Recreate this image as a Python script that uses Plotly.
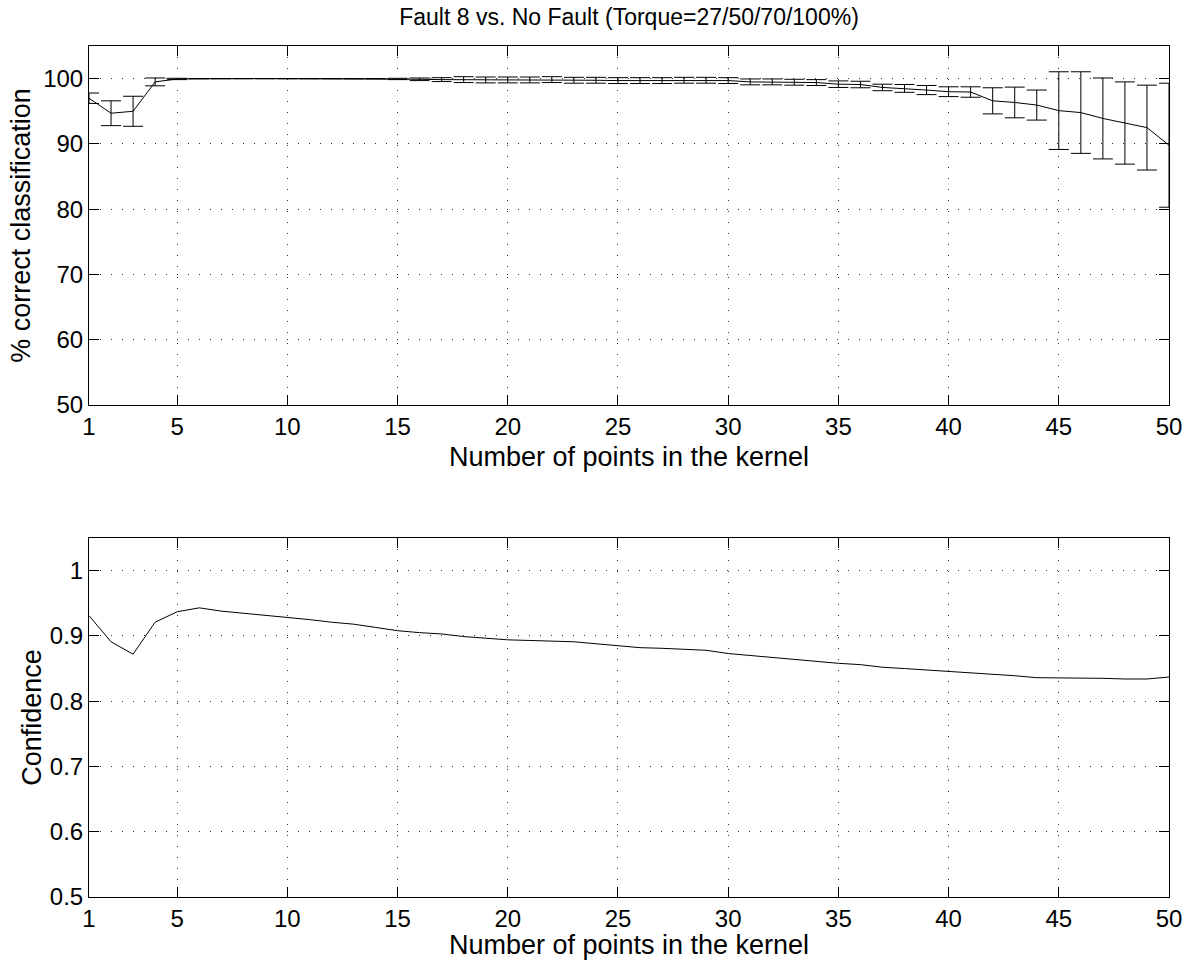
import plotly.graph_objects as go

kernel_points = list(range(1, 51))

pct_correct = [97.0, 94.7, 95.0, 99.5, 99.95, 100.0, 100.0, 100.0, 100.0, 100.0,
               100.0, 100.0, 100.0, 100.0, 99.95, 99.9, 99.85, 99.85, 99.8, 99.8,
               99.8, 99.85, 99.75, 99.75, 99.7, 99.7, 99.7, 99.75, 99.75, 99.7,
               99.5, 99.5, 99.45, 99.4, 99.15, 99.1, 98.65, 98.5, 98.25, 98.0,
               97.95, 96.6, 96.35, 95.95, 95.1, 94.8, 93.9, 93.2, 92.5, 89.8]

pct_err = [0.8, 1.9, 2.3, 0.6, 0.1, 0.0, 0.0, 0.0, 0.0, 0.0,
           0.0, 0.0, 0.0, 0.0, 0.1, 0.2, 0.3, 0.45, 0.45, 0.45,
           0.45, 0.45, 0.45, 0.45, 0.45, 0.45, 0.45, 0.45, 0.45, 0.45,
           0.45, 0.45, 0.45, 0.45, 0.5, 0.5, 0.5, 0.6, 0.7, 0.75,
           0.8, 2.0, 2.35, 2.3, 5.95, 6.25, 6.2, 6.3, 6.5, 9.5]

confidence = [0.931, 0.891, 0.872, 0.921, 0.937, 0.943, 0.938, 0.935, 0.932, 0.929,
              0.925, 0.921, 0.918, 0.913, 0.908, 0.905, 0.903, 0.899, 0.896, 0.894,
              0.893, 0.892, 0.891, 0.888, 0.885, 0.882, 0.881, 0.880, 0.878, 0.873,
              0.870, 0.866, 0.863, 0.860, 0.858, 0.856, 0.852, 0.850, 0.848, 0.846,
              0.844, 0.841, 0.839, 0.836, 0.836, 0.835, 0.835, 0.834, 0.834, 0.837]

x_ticks = [1, 5, 10, 15, 20, 25, 30, 35, 40, 45, 50]
top_y_ticks = [50, 60, 70, 80, 90, 100]
bot_y_ticks = [0.5, 0.6, 0.7, 0.8, 0.9, 1.0]
bot_y_labels = ["0.5", "0.6", "0.7", "0.8", "0.9", "1"]

title_text = "Fault 8 vs. No Fault (Torque=27/50/70/100%)"
xlabel = "Number of points in the kernel"

W, H = 1190, 960
FONT = "Liberation Sans, Arial, Helvetica, sans-serif"
ML, MR, MT, MB = 89, 21, 46, 63
PH = H - MT - MB

TICK_SIZE = 24
LABEL_SIZE = 27
TITLE_SIZE = 23

fig = go.Figure()
fig.add_trace(go.Scatter(
    x=kernel_points, y=pct_correct, mode="lines",
    line=dict(color="black", width=1),
    error_y=dict(type="data", array=pct_err, visible=True, color="black", thickness=1, width=10),
    xaxis="x", yaxis="y", showlegend=False))
fig.add_trace(go.Scatter(
    x=kernel_points, y=confidence, mode="lines",
    line=dict(color="black", width=1),
    xaxis="x2", yaxis="y2", showlegend=False))

axis_common = dict(
    showline=True, linecolor="black", linewidth=1, mirror="ticks",
    ticks="inside", ticklen=10, tickcolor="black", tickwidth=1,
    showgrid=True, gridcolor="#333", gridwidth=1, griddash="1px,10px",
    zeroline=False, automargin=False,
    tickfont=dict(size=TICK_SIZE, color="black", family=FONT),
)

fig.update_layout(
    width=W, height=H,
    margin=dict(l=ML, r=MR, t=MT, b=MB, pad=0),
    paper_bgcolor="white", plot_bgcolor="white",
    font=dict(family=FONT, color="black"),
    title=dict(text=title_text, x=629 / W, xanchor="center", xref="container",
               y=1 - 17 / H, yanchor="middle", yref="container",
               font=dict(size=TITLE_SIZE, color="black", family=FONT)),
    xaxis=dict(domain=[0, 1], range=[1, 50], tickvals=x_ticks, anchor="y",
               title=dict(text=xlabel, font=dict(size=LABEL_SIZE), standoff=8), **axis_common),
    yaxis=dict(domain=[(897 - 405) / PH, 1], range=[50, 105], tickvals=top_y_ticks,
               anchor="x",
               title=dict(text="% correct classification", font=dict(size=LABEL_SIZE), standoff=4),
               **axis_common),
    xaxis2=dict(domain=[0, 1], range=[1, 50], tickvals=x_ticks, anchor="y2",
                title=dict(text=xlabel, font=dict(size=LABEL_SIZE), standoff=6), **axis_common),
    yaxis2=dict(domain=[0, (897 - 538) / PH], range=[0.5, 1.05], tickvals=bot_y_ticks,
                ticktext=bot_y_labels, anchor="x2",
                title=dict(text="Confidence", font=dict(size=LABEL_SIZE), standoff=0),
                **axis_common),
)

fig.write_html("out.html")
